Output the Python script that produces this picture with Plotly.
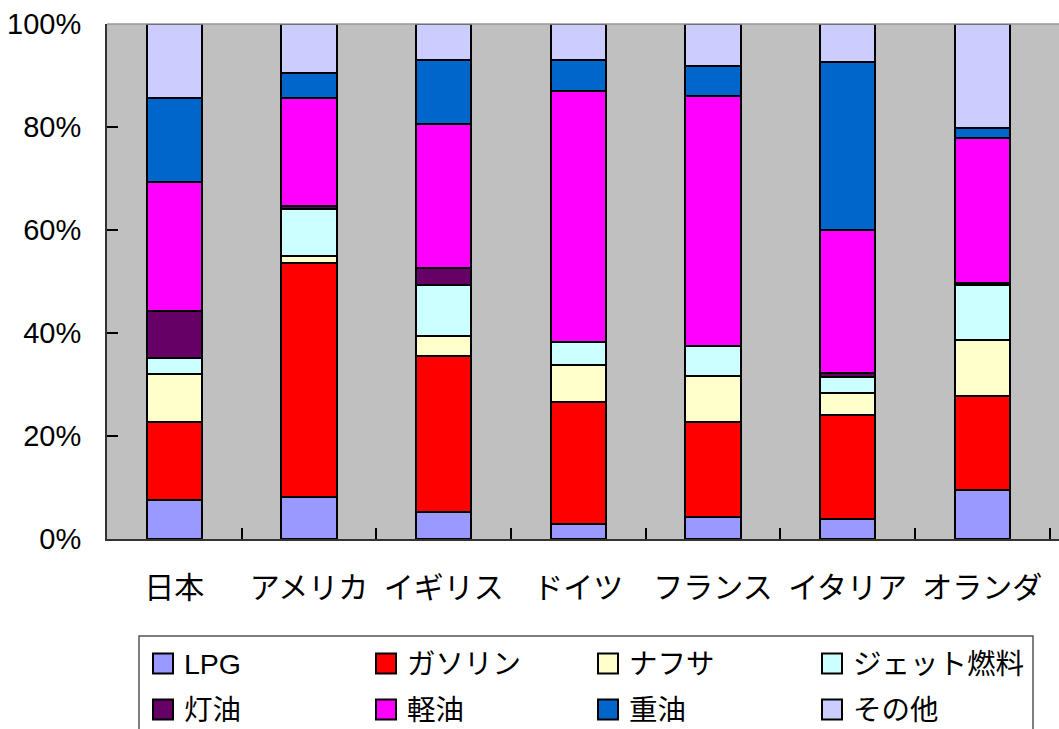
import plotly.graph_objects as go

# Product share of oil demand by country (percent of total)
countries = ["日本", "アメリカ", "イギリス", "ドイツ", "フランス", "イタリア", "オランダ"]
products = ["LPG", "ガソリン", "ナフサ", "ジェット燃料", "灯油", "軽油", "重油", "その他"]

lpg      = [7.6, 8.1, 5.2, 3.0, 4.3, 3.9, 9.5]
gasoline = [15.1, 45.5, 30.4, 23.6, 18.5, 20.1, 18.3]
naphtha  = [9.4, 1.4, 3.9, 7.2, 8.9, 4.3, 10.8]
jet_fuel = [3.0, 9.2, 9.8, 4.4, 5.7, 3.2, 10.7]
kerosene = [9.1, 0.5, 3.4, 0.0, 0.0, 0.8, 0.4]
diesel   = [25.2, 21.0, 27.9, 48.9, 48.7, 27.7, 28.3]
heavy    = [16.3, 4.8, 12.5, 6.0, 5.7, 32.7, 1.8]
other    = [14.3, 9.5, 6.9, 6.9, 8.2, 7.3, 20.2]

series = [lpg, gasoline, naphtha, jet_fuel, kerosene, diesel, heavy, other]
colors = ["#9999FF", "#FF0000", "#FFFFCC", "#CCFFFF", "#660066", "#FF00FF", "#0066CC", "#CCCCFF"]

y_ticks = [0, 20, 40, 60, 80, 100]
y_tick_text = [f"{v}%" for v in y_ticks]

FONT = "Liberation Sans, Noto Sans CJK JP, sans-serif"
W, H = 1059, 729
ML, MR, MT, MB = 107, 0, 24, 190
PW, PH = W - ML - MR, H - MT - MB


def px_x(x):
    return (x - ML) / PW


def px_y(y):
    return (H - MB - y) / PH


fig = go.Figure()
for name, vals, col in zip(products, series, colors):
    fig.add_trace(go.Bar(
        x=countries, y=vals, name=name, width=0.41,
        marker=dict(color=col, line=dict(color="black", width=2)),
        showlegend=False,
    ))

# Legend drawn as a boxed 4x2 grid of swatches and labels
shapes = [dict(type="rect", xref="paper", yref="paper",
               x0=px_x(139), x1=px_x(1033), y0=px_y(760), y1=px_y(636),
               line=dict(color="#555555", width=1.5), fillcolor="white", layer="below")]
annotations = []
col_x = [153, 376, 598, 822]
row_y = [663.5, 709.5]
for i, (name, col) in enumerate(zip(products, colors)):
    cx = col_x[i % 4]
    cy = row_y[i // 4]
    shapes.append(dict(type="rect", xref="paper", yref="paper",
                       x0=px_x(cx), x1=px_x(cx + 20), y0=px_y(cy + 10), y1=px_y(cy - 10),
                       line=dict(color="black", width=2), fillcolor=col))
    annotations.append(dict(xref="paper", yref="paper", x=px_x(cx + 29), y=px_y(cy),
                            text=name, showarrow=False, xanchor="left", yanchor="middle",
                            font=dict(family=FONT, size=28.5, color="black")))

# Light border along the top of the plotting area
shapes.append(dict(type="line", xref="paper", yref="paper", x0=0, x1=1, y0=1, y1=1,
                   line=dict(color="#999999", width=1.5)))

fig.update_layout(
    barmode="stack",
    width=W, height=H,
    margin=dict(l=ML, r=MR, t=MT, b=MB, autoexpand=False),
    paper_bgcolor="white",
    plot_bgcolor="#C0C0C0",
    font=dict(family=FONT, size=30, color="black"),
    shapes=shapes,
    annotations=annotations,
    xaxis=dict(
        type="category", range=[-0.5, 6.57], tickson="boundaries",
        ticks="inside", ticklen=11, tickwidth=1.5, tickcolor="black",
        showline=True, linecolor="#333333", linewidth=2,
        showgrid=False, zeroline=False, automargin=False,
        ticklabelstandoff=21,
        tickfont=dict(family="Noto Sans CJK JP", size=30, color="black"),
    ),
    yaxis=dict(
        range=[0, 100.05], tickmode="array", tickvals=y_ticks, ticktext=y_tick_text,
        ticks="inside", ticklen=11, tickwidth=1.5, tickcolor="black",
        showline=True, linecolor="#333333", linewidth=2,
        showgrid=False, zeroline=False, automargin=False,
        ticklabelstandoff=18,
        tickfont=dict(family=FONT, size=29, color="black"),
    ),
)

fig.write_html("out.html")
